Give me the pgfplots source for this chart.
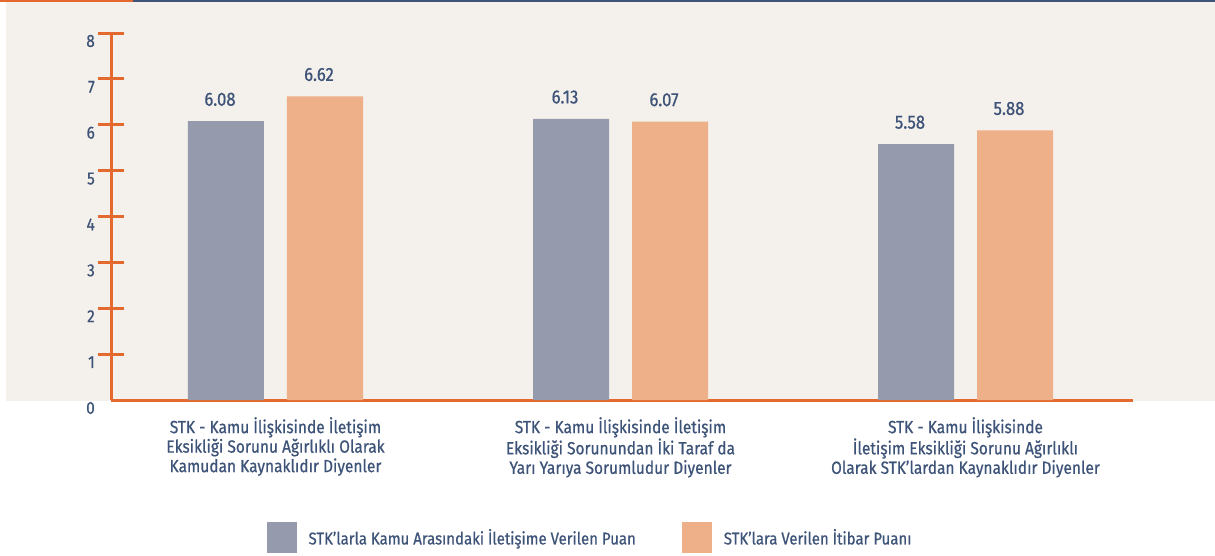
\documentclass[border=0pt]{standalone}
\usepackage{pgfplots}
\pgfplotsset{compat=1.18}
\usepackage{fontspec}
\setmainfont{Fira Sans}[FakeStretch=0.88, FakeBold=0.6]
\definecolor{txt}{HTML}{3E5378}
\definecolor{org}{HTML}{E4692F}
\definecolor{bg}{HTML}{F4F0EB}
\definecolor{gbar}{HTML}{959AAC}
\definecolor{pbar}{HTML}{EDB088}
\definecolor{topblue}{HTML}{3F5477}
\begin{document}
\begin{tikzpicture}[x=1pt,y=1pt]
\fill[white] (0,0) rectangle (1215,555);
\fill[bg] (6,154) rectangle (1215,553);
\fill[org] (0,553) rectangle (133,555);
\fill[topblue] (133,553) rectangle (1215,555);
\begin{axis}[
  at={(111pt,155pt)}, anchor=south west, scale only axis,
  width=1022pt, height=367pt,
  xmin=-0.4768, xmax=2.4855, ymin=0, ymax=8,
  axis x line=bottom, axis y line=left,
  axis line style={org, line width=3pt, -},
  every outer x axis line/.append style={-, org, line width=3pt},
  every outer y axis line/.append style={-, org, line width=3pt},
  ytick={1,...,8},
  extra y ticks={0},
  extra y tick style={tick style={draw=none}},
  major tick length=26pt, tick align=center,
  every tick/.style={org, line width=3pt},
  ytick style={org, line width=3pt},
  xtick={0,1,2}, xtick style={draw=none},
  /pgf/number format/assume math mode=true,
  yticklabel style={font=\fontsize{17.5}{18}\selectfont, text=txt, inner sep=0pt, xshift=-3pt, yshift=-8pt},
  xticklabels={{STK - Kamu İlişkisinde İletişim\\Eksikliği Sorunu Ağırlıklı Olarak\\Kamudan Kaynaklıdır Diyenler},
               {STK - Kamu İlişkisinde İletişim\\Eksikliği Sorunundan İki Taraf da\\Yarı Yarıya Sorumludur Diyenler},
               {STK - Kamu İlişkisinde\\İletişim Eksikliği Sorunu Ağırlıklı\\Olarak STK'lardan Kaynaklıdır Diyenler}},
  xticklabel style={align=center, font=\fontsize{17.6}{19.5}\selectfont, text=txt, inner sep=0pt, yshift=9pt},
  ybar=23pt, bar width=76pt,
  nodes near coords={\pgfmathprintnumber[fixed,fixed zerofill,precision=2,assume math mode=true]{\pgfplotspointmeta}},
  every node near coord/.append style={font=\fontsize{19}{20}\selectfont, text=txt, inner sep=0pt, anchor=south, yshift=15pt, xshift=-6pt},
  legend style={at={(0.4687,-0.3747)}, anchor=center, draw=none, fill=none, legend columns=2,
    font=\fontsize{17}{18}\selectfont, text=txt, inner sep=0pt,
    /tikz/every odd column/.append style={column sep=10pt},
    /tikz/every even column/.append style={column sep=44pt}},
  legend image code/.code={\fill[#1] (0pt,-15.5pt) rectangle (30pt,15.5pt);},
]
\addplot[fill=gbar, draw=none] coordinates {(0,6.08) (1,6.13) (2,5.58)};
\addplot[fill=pbar, draw=none] coordinates {(0,6.62) (1,6.07) (2,5.88)};
\legend{STK'larla Kamu Arasındaki İletişime Verilen Puan, STK'lara Verilen İtibar Puanı}
\end{axis}
\end{tikzpicture}
\end{document}
